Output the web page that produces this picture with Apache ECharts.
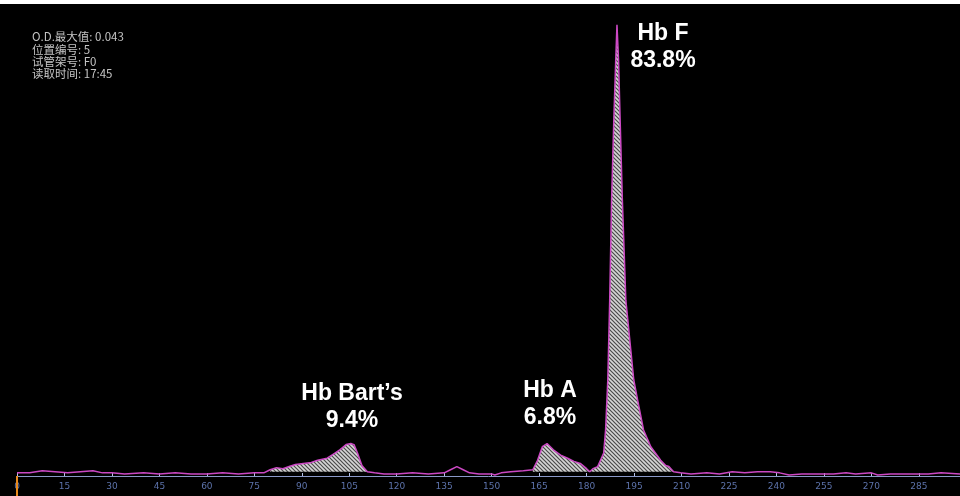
<!DOCTYPE html>
<html>
<head>
<meta charset="utf-8">
<style>
  html, body { margin: 0; padding: 0; background: #fff; }
  #chart { width: 960px; height: 496px; }
</style>
<script src="https://cdn.jsdelivr.net/npm/echarts@6/dist/echarts.min.js"></script>
</head>
<body>
<div id="chart"></div>
<script>
// electropherogram trace: retention position vs O.D.
var retention = [0, 4, 8, 12, 16, 20, 24, 27, 30, 34, 40, 45, 50, 55, 60, 65, 70, 75, 78,
  80, 82, 84, 86, 88, 90.5, 93, 95, 98, 100, 102, 104, 105.5, 106.5, 107.6, 109, 110.7,
  113, 116, 120, 125, 130, 135, 137, 139, 141, 143, 146, 150, 151, 153, 156, 160,
  163, 164.5, 166, 167.5, 169.5, 171.8, 174, 176, 178, 180, 181, 182, 183.5,
  185.4, 186, 186.7, 187.3, 187.9, 188.6, 189.2, 189.6, 190.1, 190.6, 191.3, 192.4,
  194.9, 196.1, 198, 200.3, 203.4, 205, 206, 207.5, 209.7,
  213, 218, 222, 226, 230, 234, 238, 241, 244, 248, 252, 258, 262, 265, 270, 272, 276, 282, 288, 292, 298];
var absorbance = [0.0003, 0.0003, 0.0005, 0.0004, 0.0003, 0.0004, 0.0005, 0.0003, 0.0003, 0.0002, 0.0003, 0.0002, 0.0003, 0.0002, 0.0002, 0.0003, 0.0002, 0.0003, 0.0003,
  0.0006, 0.0008, 0.0007, 0.0009, 0.0011, 0.0012, 0.0013, 0.0015, 0.0017, 0.0021, 0.0025, 0.0030, 0.0031, 0.0030, 0.0022, 0.0010, 0.0004,
  0.0003, 0.0002, 0.0002, 0.0003, 0.0002, 0.0003, 0.0006, 0.0009, 0.0006, 0.0003, 0.0002, 0.0002, 0.0001, 0.0003, 0.0004, 0.0005,
  0.0006, 0.0015, 0.0028, 0.0031, 0.0025, 0.0020, 0.0017, 0.0014, 0.0012, 0.0007, 0.0004, 0.0007, 0.0009,
  0.0022, 0.0044, 0.0092, 0.0168, 0.0264, 0.0340, 0.0397, 0.0431, 0.0397, 0.0340, 0.0264, 0.0168,
  0.0092, 0.0073, 0.0044, 0.0028, 0.0015, 0.0010, 0.0009, 0.0004, 0.0003,
  0.0002, 0.0003, 0.0002, 0.0004, 0.0003, 0.0004, 0.0004, 0.0003, 0.0001, 0.0002, 0.0002, 0.0002, 0.0003, 0.0002, 0.0003, 0.0001, 0.0002, 0.0002, 0.0002, 0.0003, 0.0002];
var peakWindows = [[80, 110.7], [163, 209.7]];
var peakNames = ['Hb Bart\u2019s', 'Hb A', 'Hb F'];
var peakPercents = ['9.4%', '6.8%', '83.8%'];
var infoLines = ['O.D.最大值: 0.043', '位置编号: 5', '试管架号: F0', '读取时间: 17:45'];

var labelPos = [[352, 394], [550, 391], [663, 34]];

function hatchPattern() {
  var c = document.createElement('canvas');
  c.width = 4;
  c.height = 4;
  var g = c.getContext('2d');
  g.fillStyle = '#d6d6d6';
  g.fillRect(0, 0, 4, 4);
  g.strokeStyle = '#4a4a4a';
  g.lineWidth = 1.2;
  g.beginPath();
  g.moveTo(-1, -1); g.lineTo(5, 5);
  g.moveTo(-1, 3); g.lineTo(1, 5);
  g.moveTo(3, -1); g.lineTo(5, 1);
  g.stroke();
  return c;
}

var trace = retention.map(function (x, i) { return [x, absorbance[i]]; });
var pattern = hatchPattern();

var peakSeries = peakWindows.map(function (w) {
  return {
    type: 'line',
    silent: true,
    symbol: 'none',
    z: 1,
    lineStyle: { width: 0, opacity: 0 },
    areaStyle: { color: { image: pattern, repeat: 'repeat' }, origin: 0.0004, opacity: 1 },
    data: trace.filter(function (p) { return p[0] >= w[0] && p[0] <= w[1]; })
  };
});

var graphics = [
  { type: 'rect', shape: { x: 0, y: 0, width: 960, height: 4 }, style: { fill: '#fff' } },
  { type: 'line', shape: { x1: 17, y1: 476, x2: 17, y2: 496 }, style: { stroke: '#e8891c', lineWidth: 2 }, z: 10 }
];
infoLines.forEach(function (t, i) {
  graphics.push({
    type: 'text', x: 32, y: 37 + i * 12.3,
    style: { text: t, fill: '#c4c4c4', font: '11.5px "Noto Sans CJK SC", sans-serif', verticalAlign: 'middle' }
  });
});
labelPos.forEach(function (p, i) {
  [peakNames[i], peakPercents[i]].forEach(function (t, j) {
    graphics.push({
      type: 'text', x: p[0], y: p[1] + j * 27,
      style: { text: t, fill: '#fff', font: 'bold 23px "Liberation Sans", Arial, sans-serif', align: 'center', verticalAlign: 'middle' }
    });
  });
});

var myChart = echarts.init(document.getElementById('chart'));
myChart.setOption({
  backgroundColor: '#000',
  animation: false,
  grid: { left: 17, right: 0, top: 5, bottom: 20 },
  xAxis: {
    type: 'value',
    min: 0,
    max: 298,
    interval: 15,
    axisLine: { lineStyle: { color: '#8a98c8', width: 1 } },
    axisTick: { inside: true, length: 3, lineStyle: { color: '#b8c4e8' } },
    axisLabel: { color: '#5c72aa', fontSize: 9, margin: 6, showMaxLabel: false, fontFamily: 'DejaVu Sans' },
    splitLine: { show: false }
  },
  yAxis: {
    type: 'value',
    min: 0,
    max: 0.045,
    show: false
  },
  graphic: graphics,
  series: peakSeries.concat([{
    type: 'line',
    symbol: 'none',
    z: 3,
    lineStyle: { color: '#cc48c4', width: 1.5 },
    data: trace
  }])
});
</script>
</body>
</html>
